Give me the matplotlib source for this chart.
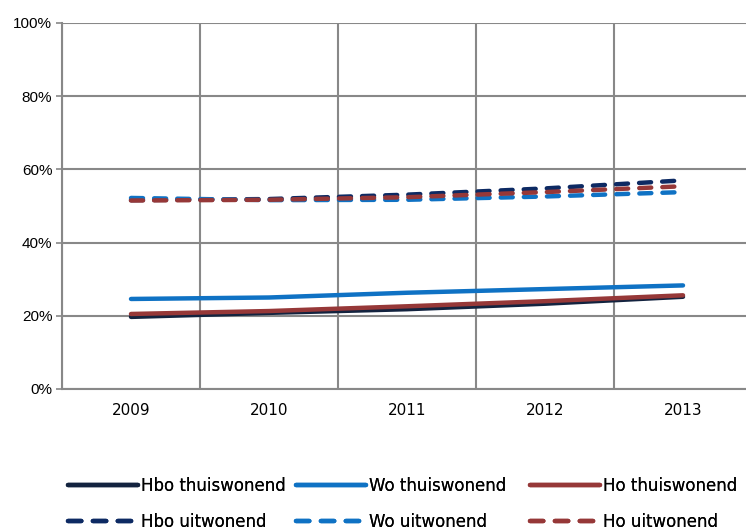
import matplotlib
matplotlib.use("Agg")
import matplotlib.pyplot as plt
from matplotlib.lines import Line2D
from matplotlib.ticker import FuncFormatter

years = ["2009", "2010", "2011", "2012", "2013"]
hbo_thuis = [19.7, 20.8, 21.8, 23.3, 25.2]
wo_thuis = [24.6, 25.0, 26.3, 27.3, 28.3]
ho_thuis = [20.5, 21.3, 22.6, 24.0, 25.6]
hbo_uit = [51.6, 51.9, 53.1, 54.8, 57.0]
wo_uit = [52.2, 51.6, 51.7, 52.6, 53.8]
ho_uit = [51.5, 51.7, 52.4, 53.8, 55.4]
yticks = [0, 20, 40, 60, 80, 100]

c_hbo = "#13233f"
c_hbo_d = "#0d2a63"
c_wo = "#0f72c4"
c_ho = "#963838"

fig = plt.figure(figsize=(7.46, 5.32), dpi=100)
ax = fig.add_axes([62/746, 1-389/532, (752-62)/746, (389-23)/532])

x = list(range(len(years)))
lw = 3.2
dash = (0, (2.7, 2.5))
l1, = ax.plot(x, hbo_thuis, color=c_hbo, lw=lw, solid_capstyle="round", label="Hbo thuiswonend", zorder=3)
l2, = ax.plot(x, wo_thuis, color=c_wo, lw=lw, solid_capstyle="round", label="Wo thuiswonend", zorder=3)
l3, = ax.plot(x, ho_thuis, color=c_ho, lw=lw, solid_capstyle="round", label="Ho thuiswonend", zorder=4)
l4, = ax.plot(x, hbo_uit, color=c_hbo_d, lw=lw, ls=dash, dash_capstyle="round", label="Hbo uitwonend", zorder=3)
l5, = ax.plot(x, wo_uit, color=c_wo, lw=lw, ls=dash, dash_capstyle="round", label="Wo uitwonend", zorder=3)
l6, = ax.plot(x, ho_uit, color=c_ho, lw=lw, ls=dash, dash_capstyle="round", label="Ho uitwonend", zorder=4)

ax.set_xlim(-0.5, 4.5)
ax.set_ylim(0, 100)
ax.set_yticks(yticks)
ax.yaxis.set_major_formatter(FuncFormatter(lambda v, p: f"{int(v)}%"))
ax.set_xticks([-0.5, 0.5, 1.5, 2.5, 3.5], minor=False)
ax.set_xticklabels([])
ax.set_xticks(x, minor=True)
ax.set_xticklabels(years, minor=True)
ax.tick_params(axis="x", which="both", length=0, pad=10, labelsize=11)
ax.tick_params(axis="y", length=4, color="#888888", width=1.2, labelsize=11, pad=3)
for lab in ax.get_yticklabels():
    lab.set_family(["Liberation Sans Narrow", "Liberation Sans", "DejaVu Sans"])
ax.grid(True, which="major", color="#888888", lw=1.5)
ax.set_axisbelow(True)
for s in ["top", "right"]:
    ax.spines[s].set_visible(False)
ax.spines["left"].set_color("#888888")
ax.spines["left"].set_linewidth(1.5)
ax.spines["bottom"].set_color("#888888")
ax.spines["bottom"].set_linewidth(1.5)

def proxy(line):
    ls = line.get_linestyle()
    if ls == "-":
        return Line2D([], [], color=line.get_color(), lw=lw, solid_capstyle="round")
    return Line2D([], [], color=line.get_color(), lw=lw, ls=(0, (3.0, 2.6)),
                  dash_capstyle="round")

cols = [([l1, l4], 68), ([l2, l5], 296), ([l3, l6], 530)]
for hs, xpx in cols:
    lg = fig.legend([proxy(h) for h in hs], [h.get_label() for h in hs], loc="center left",
                    bbox_to_anchor=(xpx/746, 1-504/532), ncol=1,
                    frameon=False, fontsize=12, handlelength=4.2, handletextpad=0.2,
                    labelspacing=1.05, borderpad=0, borderaxespad=0)
    fig.add_artist(lg)

fig.savefig("out.png", dpi=100)
